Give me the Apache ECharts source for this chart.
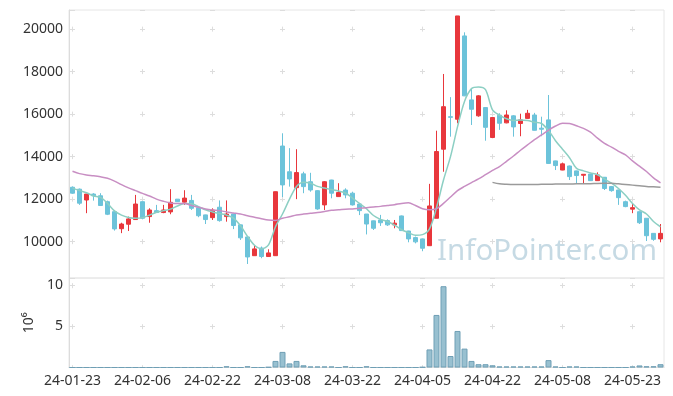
<!DOCTYPE html>
<html><head><meta charset="utf-8">
<script src="https://cdn.jsdelivr.net/npm/echarts@6/dist/echarts.min.js"></script>
<style>html,body{margin:0;padding:0;background:#fff}#c{width:673px;height:396px}</style>
</head><body><div id="c"></div>
<script>
const dates = [
'24-01-23','24-01-24','24-01-25','24-01-26','24-01-29','24-01-30','24-01-31',
'24-02-01','24-02-02','24-02-05','24-02-06','24-02-07','24-02-08','24-02-13','24-02-14','24-02-15','24-02-16','24-02-19','24-02-20','24-02-21','24-02-22','24-02-23','24-02-26','24-02-27','24-02-28','24-02-29',
'24-03-04','24-03-05','24-03-06','24-03-07','24-03-08','24-03-11','24-03-12','24-03-13','24-03-14','24-03-15','24-03-18','24-03-19','24-03-20','24-03-21','24-03-22','24-03-25','24-03-26','24-03-27','24-03-28','24-03-29',
'24-04-01','24-04-02','24-04-03','24-04-04','24-04-05','24-04-08','24-04-09','24-04-11','24-04-12','24-04-15','24-04-16','24-04-17','24-04-18','24-04-19','24-04-22','24-04-23','24-04-24','24-04-25','24-04-26','24-04-29','24-04-30',
'24-05-02','24-05-03','24-05-07','24-05-08','24-05-09','24-05-10','24-05-13','24-05-14','24-05-16','24-05-17','24-05-20','24-05-21','24-05-22','24-05-23','24-05-24','24-05-27','24-05-28','24-05-29'];

const opens = [12560,12470,11960,12240,12160,11880,11410,10610,10820,11040, 11880,11180,11460,11370,11400,12000,11860,11940,11600,11260, 11130,11620,11180,11300,10790,10220,9340,9700,9300,9340, 14500,13290,12540,13190,12820,12400,11730,12900,12120,12430, 12280,11770,11300,10980,11020,10990,10790,11210,10500,10190, 10130,9810,11100,14350,15880,15760,19680,16670,15920,16310, 14900,15950,15590,15920,15560,15800,15960,15340,15730,13800, 13370,13560,13330,13125,13180,12870,13030,12590,12430,11880, 11530,11410,11100,10390,10130];
const closes = [12280,11810,12240,12160,11700,11290,10600,10830,11070,11770, 11100,11490,11370,11490,11850,11880,12050,11570,11220,11040, 11490,10990,11300,10760,10180,9280,9660,9300,9470,12350, 12670,12950,13250,12590,12430,11540,12820,12280,12310,12200, 11730,11460,10830,10630,10890,10790,10870,10520,10130,9990, 9690,11680,14240,16350,15850,20620,16860,16230,16860,15380, 15840,15570,15960,15400,15730,16040,15240,15290,13680,13580, 13660,13060,13110,13170,12870,13140,12500,12400,12070,11650, 11600,10890,10280,10110,10390];
const highs = [12600,12500,12250,12280,12280,11930,11470,10890,11180,12200, 11890,11570,11730,11730,12470,12000,12420,12200,11600,11270, 11570,11940,11940,11310,10800,10230,9810,9770,9640,12360, 15100,14400,14350,13290,13240,12420,12850,12910,12750,12510, 12350,11800,11300,10990,11260,11050,11020,11230,10510,10240, 10150,12720,15220,17890,16800,20620,19850,17200,16890,16330, 15860,16040,16180,15950,16020,16200,16060,15880,16900,13810, 13720,13580,13340,13175,13190,13260,13040,12620,12440,11930, 11810,11420,11110,10400,10830];
const lows = [12250,11730,11340,11930,11680,11250,10520,10400,10500,11030, 11050,10890,11360,11340,11290,11870,11730,11490,11150,10830, 11020,10940,10940,10590,10080,8950,9330,9220,9290,9330, 12100,12590,12000,12280,12350,11500,11490,12040,12110,12040, 11700,11250,10340,10550,10740,10740,10630,10500,9970,9920, 9550,9800,11100,13290,14940,15570,16850,15490,15880,14750, 14870,15260,15570,14940,14960,15790,15230,14960,13670,13370, 13360,12900,12750,12750,12860,12860,12430,12350,11730,11620, 11340,10830,10030,10040,9970];

const maShort = [12520,12400,12300,12150,12080,11800,11450,11250,11140,11100, 11130,11250,11380,11460,11530,11680,11790,11780,11650,11500, 11400,11320,11250,11110,10750,10250,9830,9660,9850,10700, 11300,12000,12600,12800,12750,12600,12520,12450,12380,12290, 12050,11800,11550,11230,11050,10950,10780,10560,10420,10300, 10330,10600,11600,12900,14000,15400,16600,17200,17280,17150, 16200,15950,15780,15700,15730,15700,15620,15560,15230,14750, 14350,13950,13450,13330,13230,13150,12950,12750,12500,12180, 11800,11500,11300,10950,10700];
const maMid = [13310,13200,13140,13100,13050,12980,12850,12680,12530,12400, 12270,12150,12000,11900,11820,11790,11790,11700,11620,11540, 11490,11460,11400,11350,11300,11220,11150,11080,11020,11000, 11100,11170,11250,11300,11340,11370,11420,11480,11500,11530, 11540,11570,11600,11630,11660,11700,11740,11800,11830,11700, 11550,11500,11550,11800,12100,12400,12600,12780,12950,13150, 13350,13530,13780,14030,14300,14550,14800,15020,15250,15440, 15570,15560,15450,15330,15150,14870,14620,14450,14250,14080, 13800,13550,13300,13000,12770];
const maLong = ['-','-','-','-','-','-','-','-','-','-', '-','-','-','-','-','-','-','-','-','-', '-','-','-','-','-','-','-','-','-','-', '-','-','-','-','-','-','-','-','-','-', '-','-','-','-','-','-','-','-','-','-', '-','-','-','-','-','-','-','-','-','-', 12790,12720,12700,12690,12690,12690,12690,12700,12700,12710, 12710,12715,12720,12725,12730,12740,12745,12745,12720,12690, 12660,12630,12600,12580,12560];

const volumes = [0,0,0,0,0,0,0,0,0,0, 0,0,0,0,0,0,0,0,0,0, 0,0,0.15,0,0,0.15,0,0,0.05,0.8, 1.9,0.5,0.8,0.27,0.12,0.12,0.12,0.12,0,0.15, 0,0,0.15,0,0,0,0,0,0,0, 0.05,2.2,6.4,9.9,1.4,4.45,2.3,0.8,0.4,0.4, 0.27,0.12,0.12,0.12,0.12,0.12,0.12,0.12,0.9,0.12, 0,0.12,0.12,0,0,0,0,0,0,0, 0.12,0.25,0.15,0.15,0.4];

const FONT = '"Noto Sans", sans-serif';
const CROSS = '#dddddd';
const BORDER = '#e6e6e6';
const UP = '#e8373c', DOWN = '#6cc3da';

const chart = echarts.init(document.getElementById('c'), null, {renderer: 'canvas'});
const option = {
  animation: false,
  backgroundColor: '#fff',
  grid: [
    {left: 69, top: 10, width: 595, height: 268, show: true, borderColor: BORDER, borderWidth: 1},
    {left: 69, top: 278, width: 595, height: 89.5, show: true, borderColor: BORDER, borderWidth: 1}
  ],
  graphic: [{
    type: 'text', left: 437, top: 237, z: 100, silent: true,
    style: {text: 'InfoPointer.com', fontSize: 29.5, fontFamily: FONT, fill: '#c6dae4'}
  }],
  xAxis: [
    {type: 'category', gridIndex: 0, data: dates, boundaryGap: true,
     axisLine: {show: false}, axisTick: {show: false}, axisLabel: {show: false},
     splitLine: {show: true, interval: 9, alignWithLabel: true,
       lineStyle: {color: CROSS, width: 1, type: [5, 37.51], dashOffset: 25.9}}},
    {type: 'category', gridIndex: 1, data: dates, boundaryGap: true,
     axisLine: {show: true, lineStyle: {color: '#dcdcdc'}}, axisTick: {show: false},
     axisLabel: {interval: 9, fontSize: 14, color: '#333', margin: 7, fontFamily: FONT},
     splitLine: {show: true, interval: 9, alignWithLabel: true,
       lineStyle: {color: CROSS, width: 1, type: [5, 36], dashOffset: 35.8}}}
  ],
  yAxis: [
    {type: 'value', gridIndex: 0, min: 8290, max: 20900, splitNumber: 6, scale: true,
     axisLine: {show: true, lineStyle: {color: '#dcdcdc'}}, axisTick: {show: false},
     axisLabel: {showMinLabel: false, showMaxLabel: false, fontSize: 14, color: '#333', margin: 6, fontFamily: FONT,
       formatter: v => String(v)},
     splitLine: {show: true, lineStyle: {color: CROSS, width: 1, type: [5, 65], dashOffset: 69}}},
    {type: 'value', gridIndex: 1, min: 0, max: 10.9, splitNumber: 2,
     name: '10⁶', nameLocation: 'middle', nameRotate: 90, nameGap: 24,
     nameTextStyle: {fontSize: 14, color: '#333', fontFamily: FONT},
     axisLine: {show: true, lineStyle: {color: '#dcdcdc'}}, axisTick: {show: false},
     axisLabel: {showMinLabel: false, showMaxLabel: false, fontSize: 14, color: '#333', margin: 6, fontFamily: FONT,
       formatter: v => String(v)},
     splitLine: {show: true, lineStyle: {color: CROSS, width: 1, type: [5, 65], dashOffset: 69}}}
  ],
  series: [
    {type: 'candlestick', xAxisIndex: 0, yAxisIndex: 0, barWidth: 5,
     data: dates.map((d, i) => [opens[i], closes[i], lows[i], highs[i]]),
     itemStyle: {color: UP, color0: DOWN, borderColor: UP, borderColor0: DOWN, borderWidth: 1}},
    {type: 'line', xAxisIndex: 0, yAxisIndex: 0, data: maShort, showSymbol: false, smooth: 0.3,
     lineStyle: {color: '#8ccfc3', width: 1.5}},
    {type: 'line', xAxisIndex: 0, yAxisIndex: 0, data: maMid, showSymbol: false, smooth: 0.3,
     lineStyle: {color: '#c88ec3', width: 1.5}},
    {type: 'line', xAxisIndex: 0, yAxisIndex: 0, data: maLong, showSymbol: false, smooth: 0.3,
     lineStyle: {color: '#9a9a9a', width: 1.5}},
    {type: 'bar', xAxisIndex: 1, yAxisIndex: 1, data: volumes, barWidth: 6,
     itemStyle: {color: '#98c0d0', borderColor: '#6f9fb5', borderWidth: 1}}
  ]
};
chart.setOption(option);
</script>
</body></html>
